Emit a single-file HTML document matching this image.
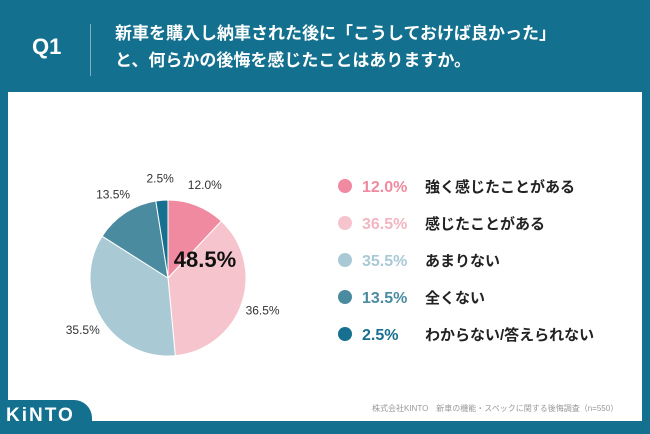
<!DOCTYPE html>
<html><head><meta charset="utf-8"><style>
body{margin:0;width:650px;height:434px;overflow:hidden;background:#13708e;font-family:"Liberation Sans","Noto Sans CJK JP",sans-serif;position:relative}
.abs{position:absolute}
</style></head><body>
<div class="abs" style="left:32px;top:34px;color:#fff;font-size:22px;font-weight:bold">Q1</div>
<div class="abs" style="left:90px;top:24px;width:1px;height:52px;background:#7fb0c2"></div>
<div class="abs" style="left:115px;top:20px;color:#fff;font-size:17px;font-weight:bold;line-height:27px">新車を購入し納車された後に「こうしておけば良かった」<br>と、何らかの後悔を感じたことはありますか。</div>
<div class="abs" style="left:8px;top:92px;width:634px;height:329px;background:#fff"></div>
<div class="abs" style="left:0;top:400px;width:92px;height:34px;background:#13708e;border-top-right-radius:18px"></div>
<div class="abs" style="left:6px;top:405px;color:#fff;font-size:19px;font-weight:bold;letter-spacing:2px">KiNTO</div>
<div class="abs" style="left:372px;top:403px;color:#999;font-size:8px">株式会社KINTO　新車の機能・スペックに関する後悔調査（n=550）</div>
<svg class="abs" style="left:0;top:0" width="650" height="434" id="chart"></svg>
<script>
const labels=["強く感じたことがある","感じたことがある","あまりない","全くない","わからない/答えられない"];
const values=[12.0,36.5,35.5,13.5,2.5];
const colors=["#f08aa0","#f6c4cd","#a9c9d5","#4b8ba0","#17708f"];
const textColors=["#f08aa0","#f3b5c1","#a9c9d5","#4b8ba0","#17708f"];
const svg=document.getElementById('chart');
const NS="http://www.w3.org/2000/svg";
const cx=168,cy=278,r=78;
const total=values.reduce((a,b)=>a+b,0);
let a0=-Math.PI/2;
values.forEach((v,i)=>{
 const a1=a0+v/total*2*Math.PI;
 const p=document.createElementNS(NS,'path');
 const large=(a1-a0)>Math.PI?1:0;
 p.setAttribute('d',`M${cx},${cy}L${cx+r*Math.cos(a0)},${cy+r*Math.sin(a0)}A${r},${r} 0 ${large} 1 ${cx+r*Math.cos(a1)},${cy+r*Math.sin(a1)}Z`);
 p.setAttribute('fill',colors[i]);p.setAttribute('stroke','#fff');p.setAttribute('stroke-width','1');
 
 
 svg.appendChild(p);
 const m=(a0+a1)/2, lr=r+22;
 const t=document.createElementNS(NS,'text');
 t.setAttribute('x',cx+lr*Math.cos(m));t.setAttribute('y',cy+lr*Math.sin(m)+4);
 t.setAttribute('text-anchor','middle');t.setAttribute('font-size','12');t.setAttribute('fill','#333');
 t.textContent=v.toFixed(1)+'%';
 
 
 svg.appendChild(t);
 // legend
 const y=186+i*37;
 const c=document.createElementNS(NS,'circle');
 c.setAttribute('cx',345);c.setAttribute('cy',y);c.setAttribute('r',7);c.setAttribute('fill',colors[i]);
 
 
 svg.appendChild(c);
 const tp=document.createElementNS(NS,'text');
 tp.setAttribute('x',362);tp.setAttribute('y',y+6);tp.setAttribute('font-size','16');tp.setAttribute('font-weight','bold');tp.setAttribute('fill',textColors[i]);
 tp.textContent=v.toFixed(1)+'%';
 
 
 svg.appendChild(tp);
 const tl=document.createElementNS(NS,'text');
 tl.setAttribute('x',425);tl.setAttribute('y',y+6);tl.setAttribute('font-size','15');tl.setAttribute('font-weight','bold');tl.setAttribute('fill','#222');
 tl.textContent=labels[i];
 
 
 svg.appendChild(tl);
 a0=a1;
});
const big=document.createElementNS(NS,'text');
big.setAttribute('x',cx+37);big.setAttribute('y',cy-11);big.setAttribute('text-anchor','middle');big.setAttribute('font-size','22');big.setAttribute('font-weight','bold');big.setAttribute('fill','#111');
big.textContent=(values[0]+values[1]).toFixed(1)+'%';


svg.appendChild(big);
</script>
</body></html>
